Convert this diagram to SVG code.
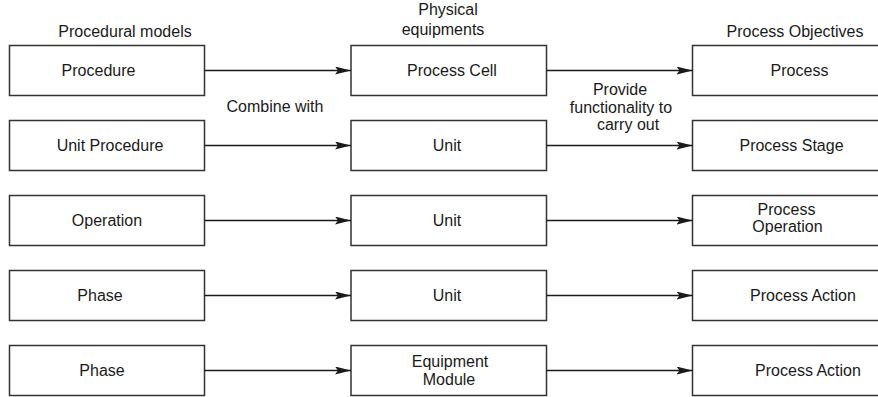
<svg xmlns="http://www.w3.org/2000/svg" width="878" height="397" viewBox="0 0 878 397">
<defs>
<marker id="arr" viewBox="0 0 16 8" refX="16" refY="4" markerWidth="16" markerHeight="8" markerUnits="userSpaceOnUse" orient="auto">
<path d="M0,0 L16,4 L0,8 L3,4 Z" fill="#1a1a1a"/>
</marker>
</defs>
<style>
rect{fill:#fff;stroke:#333;stroke-width:1.5}
text{font-family:"Liberation Sans",Arial,sans-serif;font-size:16px;fill:#1a1a1a;text-anchor:middle}
.c line{stroke:#1a1a1a;stroke-width:1.4}
</style>
<rect x="0" y="0" width="878" height="397" style="fill:#fff;stroke:none"/>
<g id="headers">
<text x="125" y="37">Procedural models</text>
<text x="448" y="15">Physical</text>
<text x="443" y="35">equipments</text>
<text x="795" y="37">Process Objectives</text>
<text x="275" y="112">Combine with</text>
<text x="620" y="95">Provide</text>
<text x="621" y="113">functionality to</text>
<text x="628" y="130">carry out</text>
</g>
<g id="n-procedure"><rect x="9.5" y="45.5" width="195" height="50"/><text x="98.5" y="76">Procedure</text></g>
<g id="n-unitprocedure"><rect x="9.5" y="120.5" width="195" height="50"/><text x="110" y="151">Unit Procedure</text></g>
<g id="n-operation"><rect x="9.5" y="195.5" width="195" height="50"/><text x="107" y="226">Operation</text></g>
<g id="n-phase1"><rect x="9.5" y="270.5" width="195" height="50"/><text x="100" y="301">Phase</text></g>
<g id="n-phase2"><rect x="9.5" y="345.5" width="195" height="50"/><text x="102" y="376">Phase</text></g>
<g id="n-processcell"><rect x="351" y="45.5" width="195.5" height="50"/><text x="452" y="76">Process Cell</text></g>
<g id="n-unit1"><rect x="351" y="120.5" width="195.5" height="50"/><text x="447" y="151">Unit</text></g>
<g id="n-unit2"><rect x="351" y="195.5" width="195.5" height="50"/><text x="447" y="226">Unit</text></g>
<g id="n-unit3"><rect x="351" y="270.5" width="195.5" height="50"/><text x="447" y="301">Unit</text></g>
<g id="n-equipmentmodule"><rect x="351" y="345.5" width="195.5" height="50"/><text x="450" y="367">Equipment</text><text x="449" y="384.5">Module</text></g>
<g id="n-process"><rect x="692.5" y="45.5" width="200" height="50"/><text x="799.5" y="76">Process</text></g>
<g id="n-processstage"><rect x="692.5" y="120.5" width="200" height="50"/><text x="791.5" y="151">Process Stage</text></g>
<g id="n-processoperation"><rect x="692.5" y="195.5" width="200" height="50"/><text x="786.5" y="215">Process</text><text x="787.5" y="231.5">Operation</text></g>
<g id="n-processaction1"><rect x="692.5" y="270.5" width="200" height="50"/><text x="803" y="301">Process Action</text></g>
<g id="n-processaction2"><rect x="692.5" y="345.5" width="200" height="50"/><text x="808" y="376">Process Action</text></g>
<g id="connectors" class="c">
<line x1="204.5" y1="70.5" x2="351" y2="70.5" marker-end="url(#arr)"/>
<line x1="204.5" y1="145.5" x2="351" y2="145.5" marker-end="url(#arr)"/>
<line x1="204.5" y1="220.5" x2="351" y2="220.5" marker-end="url(#arr)"/>
<line x1="204.5" y1="295.5" x2="351" y2="295.5" marker-end="url(#arr)"/>
<line x1="204.5" y1="370.5" x2="351" y2="370.5" marker-end="url(#arr)"/>
<line x1="546.5" y1="70.5" x2="692.5" y2="70.5" marker-end="url(#arr)"/>
<line x1="546.5" y1="145.5" x2="692.5" y2="145.5" marker-end="url(#arr)"/>
<line x1="546.5" y1="220.5" x2="692.5" y2="220.5" marker-end="url(#arr)"/>
<line x1="546.5" y1="295.5" x2="692.5" y2="295.5" marker-end="url(#arr)"/>
<line x1="546.5" y1="370.5" x2="692.5" y2="370.5" marker-end="url(#arr)"/>
</g>
</svg>
